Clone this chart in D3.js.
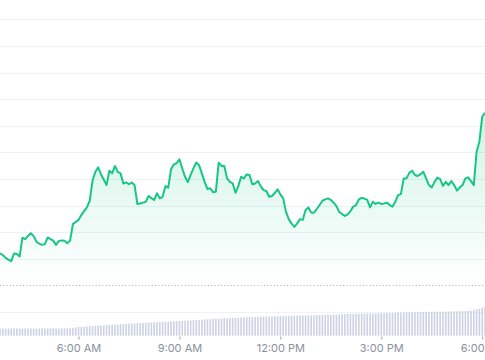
<!DOCTYPE html>
<html>
<head>
<meta charset="utf-8">
<script src="https://cdn.jsdelivr.net/npm/d3@7"></script>
<style>
  html, body { margin: 0; padding: 0; background: #ffffff; }
  svg { display: block; }
  .axis text { font-family: Inter, "Noto Sans", sans-serif; font-size: 11px; fill: #8a919e; }
  .axis line { stroke: #9aa0aa; }
</style>
</head>
<body>
<svg id="chart" width="485" height="360"></svg>
<script>
// ---- data ----
const startTime = "03:40";   // first sample
const endTime = "18:05";     // last sample
const stepMinutes = 5;       // sample spacing
const openPrice = 100;       // dotted reference level

const prices = [
  112.0, 111.4, 110.3, 109.7, 109.1, 112.0, 111.8, 110.8, 117.9, 117.4,
  118.6, 119.6, 118.5, 116.4, 115.7, 115.2, 115.5, 118.0, 117.4, 116.8,
  115.2, 116.7, 116.9, 116.8, 115.8, 116.8, 123.0, 123.8, 124.6, 126.4,
  127.9, 129.3, 131.8, 139.3, 142.6, 144.4, 141.8, 139.8, 137.7, 143.1,
  142.1, 144.9, 142.7, 142.1, 138.3, 138.7, 138.0, 138.7, 137.7, 130.6,
  130.8, 131.1, 131.4, 133.6, 132.8, 132.1, 134.6, 132.7, 133.3, 137.3,
  136.7, 143.6, 145.5, 145.9, 147.4, 144.0, 140.8, 138.8, 141.5, 144.0,
  146.2, 145.2, 142.1, 138.9, 136.2, 136.5, 135.0, 135.2, 146.1, 144.9,
  144.9, 140.2, 138.9, 138.3, 134.8, 137.3, 140.8, 140.2, 141.7, 141.5,
  138.0, 138.3, 139.2, 137.3, 135.8, 135.5, 133.3, 133.6, 134.7, 136.1,
  134.2, 132.7, 127.7, 124.9, 123.2, 122.0, 123.3, 124.9, 124.6, 128.3,
  129.3, 127.4, 127.3, 128.7, 130.2, 131.8, 132.3, 132.7, 132.1, 131.1,
  129.8, 127.6, 126.8, 126.1, 126.7, 127.9, 129.6, 130.2, 132.3, 132.9,
  132.6, 132.1, 129.3, 131.4, 130.6, 131.1, 130.6, 130.8, 131.1, 130.2,
  129.6, 131.4, 133.9, 134.3, 140.2, 140.2, 142.3, 143.1, 141.5, 141.1,
  141.8, 142.7, 140.2, 137.7, 136.8, 138.9, 140.5, 139.9, 137.4, 138.9,
  137.7, 139.2, 137.7, 135.6, 136.8, 137.7, 140.2, 140.6, 139.2, 137.7,
  150.2, 154.0, 163.4, 164.9
];

const volumes = [
  7.2, 7.2, 7.1, 7.2, 7.2, 7.2, 7.1, 7.2, 7.2, 7.2,
  7.2, 7.2, 7.1, 7.2, 7.2, 7.2, 7.2, 7.2, 7.2, 7.3,
  7.2, 7.2, 7.2, 7.3, 7.3, 7.4, 7.8, 8.3, 8.7, 8.9,
  9.0, 9.2, 9.4, 9.6, 9.8, 10.0, 10.2, 10.4, 10.6, 10.7,
  10.9, 11.1, 11.2, 11.4, 11.6, 11.8, 12.0, 12.1, 12.3, 12.5,
  12.6, 12.8, 12.9, 13.1, 13.2, 13.4, 13.5, 13.7, 13.8, 14.0,
  14.1, 14.3, 14.4, 14.6, 14.7, 14.9, 15.0, 15.1, 15.3, 15.4,
  15.6, 15.7, 15.9, 16.1, 16.3, 16.5, 16.6, 16.8, 17.0, 17.2,
  17.4, 17.5, 17.6, 17.8, 17.9, 18.0, 18.2, 18.3, 18.4, 18.5,
  18.6, 18.7, 18.9, 19.0, 19.0, 19.1, 19.2, 19.2, 19.3, 19.4,
  19.5, 19.6, 19.6, 19.7, 19.8, 19.9, 20.0, 20.1, 20.2, 20.3,
  20.3, 20.4, 20.5, 20.6, 20.7, 20.8, 20.9, 21.0, 21.0, 21.1,
  21.2, 21.4, 21.5, 21.6, 21.7, 21.8, 21.8, 21.9, 22.0, 22.0,
  22.1, 22.1, 22.2, 22.3, 22.3, 22.4, 22.5, 22.5, 22.6, 22.7,
  22.8, 22.9, 23.0, 23.1, 23.2, 23.3, 23.4, 23.5, 23.6, 23.7,
  23.7, 23.8, 23.8, 23.9, 23.9, 24.0, 24.0, 24.0, 24.1, 24.1,
  24.2, 24.2, 24.3, 24.4, 24.4, 24.5, 24.6, 24.7, 24.9, 25.5,
  26.4, 27.2, 28.0, 28.7
];

const priceGridValues = [90, 110, 120, 130, 140, 150, 160, 170, 180, 190, 200];

// ---- build table ----
const parseTime = d3.timeParse("%H:%M");
const t0 = parseTime(startTime);
const data = prices.map((p, i) => ({
  time: d3.timeMinute.offset(t0, i * stepMinutes),
  price: p,
  volume: volumes[i]
}));

// ---- layout ----
const W = 485, H = 360;
const svg = d3.select("#chart");

const x = d3.scaleTime()
  .domain([t0, parseTime(endTime)])
  .range([0, W]);

const y = d3.scaleLinear()
  .domain([80, 207.3])
  .range([338.5, 0]);

const yVol = d3.scaleLinear()
  .domain([0, 50])
  .range([335.7, 285.7]);

// gradient for area
const defs = svg.append("defs");
const grad = defs.append("linearGradient")
  .attr("id", "areaGrad")
  .attr("gradientUnits", "userSpaceOnUse")
  .attr("x1", 0).attr("x2", 0)
  .attr("y1", y(165)).attr("y2", y(openPrice));
grad.append("stop").attr("offset", "0%").attr("stop-color", "#16c784").attr("stop-opacity", 0.2);
grad.append("stop").attr("offset", "100%").attr("stop-color", "#16c784").attr("stop-opacity", 0.0);

// gridlines
svg.append("g")
  .selectAll("line")
  .data(priceGridValues)
  .join("line")
  .attr("x1", 0).attr("x2", W)
  .attr("y1", d => Math.round(y(d)) + 0.5)
  .attr("y2", d => Math.round(y(d)) + 0.5)
  .attr("stroke", "#eff1f4")
  .attr("stroke-width", 1);

// volume bars
svg.append("g")
  .selectAll("rect")
  .data(data)
  .join("rect")
  .attr("x", d => x(d.time) - 0.8)
  .attr("width", 1.6)
  .attr("y", d => yVol(d.volume))
  .attr("height", d => yVol(0) - yVol(d.volume))
  .attr("fill", "#ccd2e3");

// area
const area = d3.area()
  .x(d => x(d.time))
  .y0(y(openPrice))
  .y1(d => y(d.price));
svg.append("path")
  .datum(data)
  .attr("d", area)
  .attr("fill", "url(#areaGrad)");

// dotted open line
svg.append("line")
  .attr("x1", 0).attr("x2", W)
  .attr("y1", Math.round(y(openPrice)) + 0.5)
  .attr("y2", Math.round(y(openPrice)) + 0.5)
  .attr("stroke", "#a7acb5")
  .attr("stroke-width", 1)
  .attr("stroke-dasharray", "1,2.3");

// price line
const line = d3.line()
  .x(d => x(d.time))
  .y(d => y(d.price));
svg.append("path")
  .datum(data)
  .attr("d", line)
  .attr("fill", "none")
  .attr("stroke", "#16c784")
  .attr("stroke-width", 2)
  .attr("stroke-linejoin", "round");

// x axis
const xAxis = d3.axisBottom(x)
  .ticks(d3.timeHour.every(3))
  .tickFormat(d3.timeFormat("%-I:%M %p"))
  .tickSize(3)
  .tickPadding(5);
const gx = svg.append("g")
  .attr("class", "axis")
  .attr("transform", "translate(0,336.5)")
  .call(xAxis);
gx.select(".domain").remove();
</script>
</body>
</html>
